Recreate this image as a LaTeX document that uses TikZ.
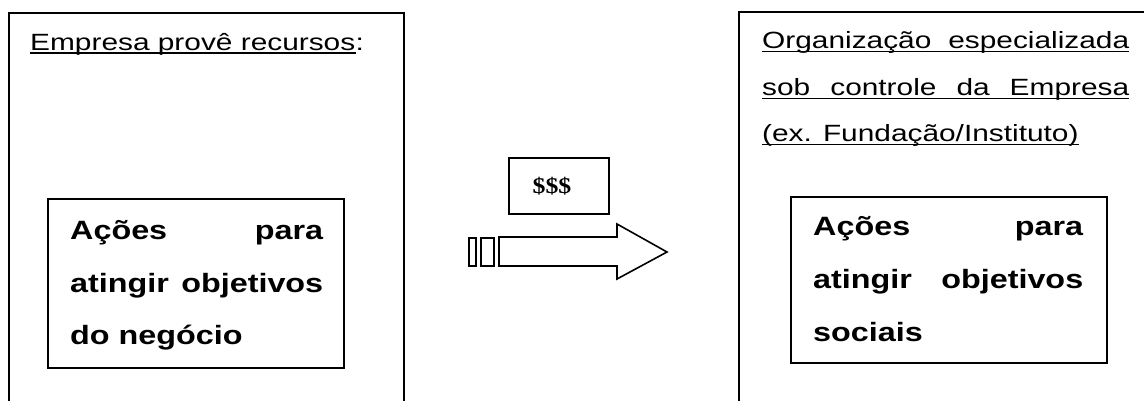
\documentclass[tikz,border=0pt]{standalone}
\usepackage{fontspec}
\newfontfamily\regf{Liberation Sans}[FakeStretch=1.27]
\newfontfamily\boldf{Liberation Sans}[FakeStretch=1.22]
\newfontfamily\dollarf{Liberation Serif}[FakeStretch=1.15]
\begin{document}
\begin{tikzpicture}[x=1pt,y=-1pt,
  outer/.style={line width=1.5pt},
  inner/.style={line width=2pt},
  lbl/.style={inner sep=0pt, anchor=base west, font=\regf\fontsize{23.5}{28}\selectfont},
  bld/.style={inner sep=0pt, anchor=base west, font=\boldf\bfseries\fontsize{26.5}{30}\selectfont},
  uline/.style={line width=1.4pt},
  shp/.style={line width=1.6pt}]
\useasboundingbox (0,0) rectangle (1144,400);
\clip (0,0) rectangle (1144,400);
\fill[white] (0,0) rectangle (1144,400);
% outer frames (open at the bottom)
\draw[outer] (9,410) -- (9,13) -- (404,13) -- (404,410);
\draw[outer] (739,410) -- (739,12) -- (1160,12);
% left header
\node[lbl] (l1a) at (30,50) {Empresa provê recursos};
\node[lbl] (l1b) at (l1a.base east) {:};
\draw[uline] ([yshift=-3pt]l1a.base west) -- ([yshift=-3pt]l1a.base east);
% left inner box
\draw[inner] (48,199) rectangle (344,368);
\node[bld] (a1) at (70,239) {\makebox[253pt][s]{Ações para}};
\node[bld] (a2) at (70,292) {\makebox[253pt][s]{atingir objetivos}};
\node[bld] (a3) at (70,344) {do negócio};
% right header
\node[lbl] (r1) at (762,48) {\makebox[367pt][s]{Organização especializada}};
\node[lbl] (r2) at (762,95) {\makebox[367pt][s]{sob controle da Empresa}};
\node[lbl] (r3) at (762,141) {(ex. Fundação/Instituto)};
\draw[uline] ([yshift=-3.5pt]r1.base west) -- ([yshift=-3.5pt]r1.base east);
\draw[uline] ([yshift=-3.5pt]r2.base west) -- ([yshift=-3.5pt]r2.base east);
\draw[uline] ([yshift=-3.5pt]r3.base west) -- ([yshift=-3.5pt]r3.base east);
% right inner box
\draw[inner] (791,197) rectangle (1107,363);
\node[bld] (b1) at (813,235) {\makebox[270pt][s]{Ações para}};
\node[bld] (b2) at (813,288) {\makebox[270pt][s]{atingir objetivos}};
\node[bld] (b3) at (813,341) {sociais};
% money box
\draw[inner] (509,158) rectangle (609,214);
\node[inner sep=0pt, font=\dollarf\bfseries\fontsize{22.5}{26}\selectfont] (m) at (552,186) {\$\$\$};
% arrow
\draw[shp] (499,237) -- (617,237) -- (617,224) -- (667,252) -- (617,279) -- (617,266) -- (499,266) -- cycle;
\draw[shp] (469,238) rectangle (476,266);
\draw[shp] (481,238) rectangle (494,266);
\end{tikzpicture}
\end{document}
